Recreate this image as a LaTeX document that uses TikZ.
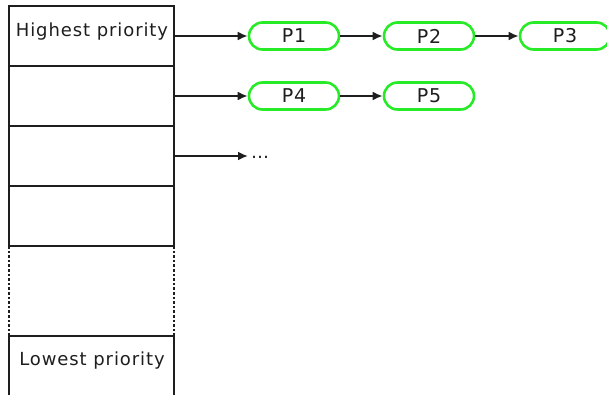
\documentclass[tikz,border=0pt]{standalone}
\usepackage{fontspec}
\setmainfont{DejaVu Sans}[LetterSpace=5]
\usetikzlibrary{shapes.misc,arrows.meta}
\definecolor{ink}{RGB}{30,30,30}
\definecolor{procgreen}{RGB}{40,235,40}
\begin{document}
\begin{tikzpicture}[x=1pt,y=-1pt,
  level/.style={draw=ink,line width=2.6pt,minimum width=165pt,minimum height=60pt,inner sep=0pt},
  levellabel/.style={text=ink,font=\fontsize{18}{20}\selectfont,anchor=base,inner sep=0pt},
  proc/.style={rounded rectangle,draw=procgreen,line width=2.6pt,minimum width=90pt,minimum height=27pt,
    inner sep=0pt,text=ink,font=\fontsize{19}{20}\selectfont},
  link/.style={draw=ink,line width=2.2pt,-{Latex[length=10pt,width=9pt]}}]
\useasboundingbox (0,0) rectangle (607,394);

% priority levels, top to bottom
\node[level] (b1) at (91.5,36) {};
\node[level] (b2) at (91.5,96) {};
\node[level] (b3) at (91.5,156) {};
\node[level] (b4) at (91.5,216) {};
\node[levellabel] (l1) at (92,36) {Highest priority};

% elided levels in between
\coordinate (d1) at (9,246);
\coordinate (d2) at (9,336);
\coordinate (d3) at (174,246);
\coordinate (d4) at (174,336);
\draw[ink,line width=2.6pt,dotted] (d1) -- (d2) (d3) -- (d4);

% lowest level, running off the bottom edge
\coordinate (e1) at (9,396);
\coordinate (e2) at (174,396);
\draw[ink,line width=2.6pt] (e1) -- (d2) -- (d4) -- (e2);
\node[levellabel] (l6) at (92,365) {Lowest priority};

% process queues
\node[proc] (p1) at (294,36) {P1};
\node[proc] (p2) at (429,36) {P2};
\node[proc] (p3) at (565,36) {P3};
\node[proc] (p4) at (294,96) {P4};
\node[proc] (p5) at (429,96) {P5};

\draw[link] (b1.east) -- (p1.west);
\draw[link] (p1.east) -- (p2.west);
\draw[link] (p2.east) -- (p3.west);
\draw[link] (b2.east) -- (p4.west);
\draw[link] (p4.east) -- (p5.west);

\coordinate (q3) at (248,156);
\draw[link] (b3.east) -- (q3);
\node[text=ink,font=\fontsize{18}{20}\selectfont,anchor=base west,inner sep=0pt] (more) at (251,158) {…};
\end{tikzpicture}
\end{document}
